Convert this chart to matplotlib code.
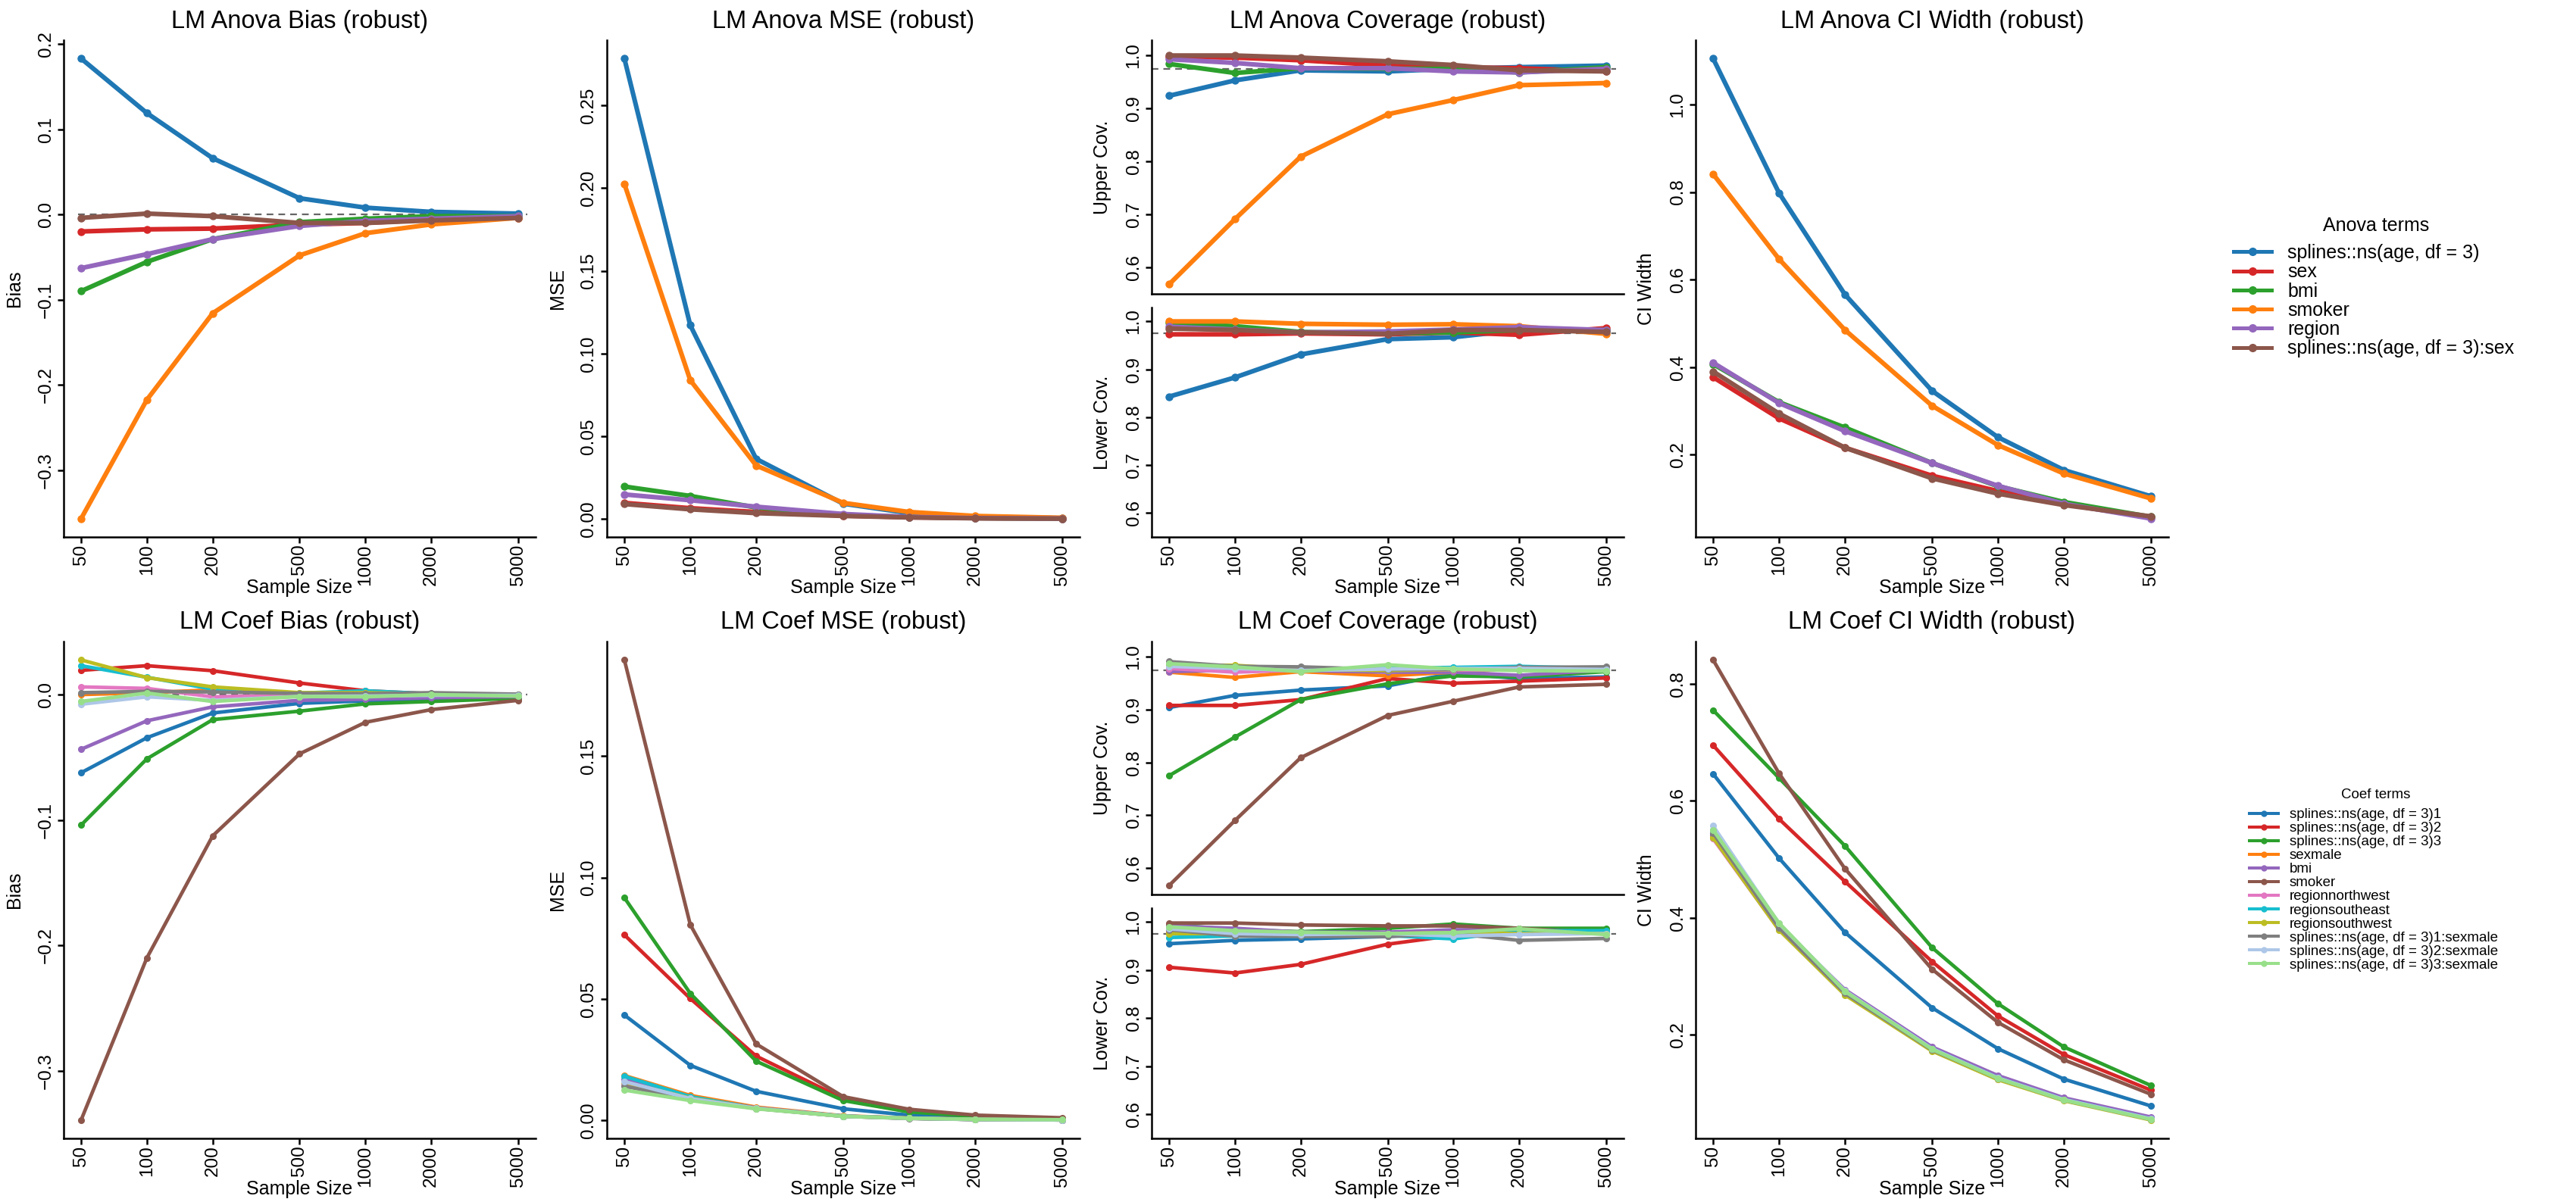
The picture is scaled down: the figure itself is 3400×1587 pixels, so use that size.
import matplotlib
matplotlib.use("Agg")
import matplotlib.pyplot as plt
from matplotlib.lines import Line2D
import numpy as np

plt.rcParams['font.family'] = ['Liberation Sans', 'DejaVu Sans']

# ---------------- data ----------------
sample_sizes = [50, 100, 200, 500, 1000, 2000, 5000]
x_tick_labels = ["50", "100", "200", "500", "1000", "2000", "5000"]

anova_terms = ["splines::ns(age, df = 3)", "sex", "bmi", "smoker", "region",
               "splines::ns(age, df = 3):sex"]
anova_colors = ["#1f77b4", "#d62728", "#2ca02c", "#ff7f0e", "#9467bd", "#8c564b"]

coef_terms = ["splines::ns(age, df = 3)1", "splines::ns(age, df = 3)2",
              "splines::ns(age, df = 3)3", "sexmale", "bmi", "smoker",
              "regionnorthwest", "regionsoutheast", "regionsouthwest",
              "splines::ns(age, df = 3)1:sexmale", "splines::ns(age, df = 3)2:sexmale",
              "splines::ns(age, df = 3)3:sexmale"]
coef_colors = ["#1f77b4", "#d62728", "#2ca02c", "#ff7f0e", "#9467bd", "#8c564b",
               "#e377c2", "#17becf", "#bcbd22", "#7f7f7f", "#aec7e8", "#98df8a"]

anova_bias = [
    [0.183, 0.119, 0.066, 0.019, 0.008, 0.003, 0.001],
    [-0.020, -0.0175, -0.0166, -0.012, -0.010, -0.006, -0.004],
    [-0.090, -0.0556, -0.029, -0.009, -0.005, -0.002, -0.002],
    [-0.357, -0.2175, -0.116, -0.048, -0.022, -0.0117, -0.004],
    [-0.063, -0.0466, -0.029, -0.0135, -0.0076, -0.005, -0.002],
    [-0.004, 0.001, -0.002, -0.010, -0.010, -0.007, -0.004],
]
anova_mse = [
    [0.2784, 0.1171, 0.0363, 0.0092, 0.0035, 0.0014, 0.0005],
    [0.0097, 0.0065, 0.0042, 0.0020, 0.0010, 0.0005, 0.0002],
    [0.0196, 0.0139, 0.0069, 0.0025, 0.0012, 0.0005, 0.0002],
    [0.2026, 0.0839, 0.0323, 0.0097, 0.0042, 0.0018, 0.0007],
    [0.0148, 0.0113, 0.0074, 0.0030, 0.0012, 0.0005, 0.0002],
    [0.0090, 0.0058, 0.0035, 0.0018, 0.0009, 0.0004, 0.0002],
]
anova_cov_upper = [
    [0.924, 0.953, 0.972, 0.970, 0.975, 0.978, 0.981],
    [0.998, 0.996, 0.991, 0.981, 0.978, 0.976, 0.970],
    [0.984, 0.967, 0.976, 0.975, 0.975, 0.968, 0.978],
    [0.568, 0.691, 0.809, 0.889, 0.916, 0.944, 0.948],
    [0.993, 0.986, 0.976, 0.976, 0.970, 0.968, 0.975],
    [1.000, 1.000, 0.996, 0.989, 0.982, 0.972, 0.970],
]
anova_cov_lower = [
    [0.843, 0.883, 0.931, 0.963, 0.967, 0.982, 0.981],
    [0.973, 0.973, 0.975, 0.973, 0.977, 0.972, 0.986],
    [0.998, 0.990, 0.978, 0.975, 0.977, 0.982, 0.982],
    [1.000, 1.000, 0.995, 0.993, 0.994, 0.990, 0.974],
    [0.989, 0.983, 0.977, 0.979, 0.983, 0.988, 0.982],
    [0.985, 0.982, 0.977, 0.974, 0.982, 0.982, 0.978],
]
anova_ci = [
    [1.105, 0.798, 0.566, 0.346, 0.240, 0.165, 0.105],
    [0.377, 0.283, 0.216, 0.152, 0.117, 0.087, 0.057],
    [0.407, 0.320, 0.262, 0.181, 0.128, 0.092, 0.058],
    [0.841, 0.647, 0.485, 0.312, 0.222, 0.157, 0.100],
    [0.410, 0.318, 0.254, 0.181, 0.129, 0.088, 0.054],
    [0.390, 0.294, 0.216, 0.146, 0.111, 0.085, 0.059],
]

coef_bias = [
    [-0.0623, -0.0344, -0.0147, -0.0070, -0.0050, -0.0037, -0.0020],
    [0.0193, 0.0230, 0.0190, 0.0092, 0.0030, 0.0006, -0.0006],
    [-0.104, -0.0512, -0.0200, -0.0132, -0.0074, -0.0055, -0.0030],
    [0.0000, 0.0015, 0.0037, 0.0006, 0.0000, 0.0000, -0.0006],
    [-0.0436, -0.0209, -0.0098, -0.0046, -0.0037, -0.0025, -0.0015],
    [-0.339, -0.2098, -0.1126, -0.0472, -0.0221, -0.0120, -0.0046],
    [0.0061, 0.0049, -0.0018, -0.0006, -0.0006, 0.0000, -0.0006],
    [0.0230, 0.0138, 0.0043, 0.0012, 0.0030, 0.0006, 0.0000],
    [0.0276, 0.0135, 0.0061, 0.0015, 0.0015, 0.0006, 0.0000],
    [0.0015, 0.0025, 0.0021, 0.0009, 0.0006, 0.0015, 0.0003],
    [-0.0077, -0.0018, -0.0046, -0.0015, -0.0012, -0.0006, -0.0006],
    [-0.0055, 0.0012, -0.0055, -0.0015, -0.0018, 0.0000, -0.0012],
]
coef_mse = [
    [0.0434, 0.0227, 0.0120, 0.0048, 0.0022, 0.0011, 0.0005],
    [0.0764, 0.0502, 0.0265, 0.0090, 0.0038, 0.0019, 0.0008],
    [0.0917, 0.0523, 0.0244, 0.0082, 0.0035, 0.0017, 0.0006],
    [0.0185, 0.0103, 0.0055, 0.0019, 0.0010, 0.0005, 0.0002],
    [0.0170, 0.0095, 0.0052, 0.0018, 0.0009, 0.0004, 0.0002],
    [0.1896, 0.0806, 0.0315, 0.0098, 0.0046, 0.0022, 0.0011],
    [0.0150, 0.0090, 0.0050, 0.0017, 0.0009, 0.0004, 0.0002],
    [0.0182, 0.0098, 0.0050, 0.0018, 0.0009, 0.0004, 0.0002],
    [0.0157, 0.0092, 0.0050, 0.0017, 0.0009, 0.0004, 0.0002],
    [0.0141, 0.0088, 0.0049, 0.0017, 0.0008, 0.0004, 0.0002],
    [0.0160, 0.0090, 0.0050, 0.0017, 0.0009, 0.0004, 0.0002],
    [0.0125, 0.0082, 0.0048, 0.0017, 0.0009, 0.0005, 0.0003],
]
coef_cov_upper = [
    [0.904, 0.927, 0.937, 0.945, 0.969, 0.959, 0.962],
    [0.908, 0.908, 0.919, 0.959, 0.950, 0.954, 0.960],
    [0.775, 0.848, 0.919, 0.949, 0.964, 0.962, 0.972],
    [0.971, 0.961, 0.972, 0.964, 0.971, 0.978, 0.978],
    [0.972, 0.975, 0.974, 0.971, 0.971, 0.965, 0.975],
    [0.567, 0.690, 0.809, 0.889, 0.916, 0.943, 0.948],
    [0.978, 0.971, 0.975, 0.975, 0.975, 0.976, 0.977],
    [0.985, 0.980, 0.974, 0.978, 0.980, 0.982, 0.978],
    [0.984, 0.984, 0.976, 0.974, 0.976, 0.978, 0.977],
    [0.991, 0.982, 0.981, 0.976, 0.976, 0.980, 0.981],
    [0.982, 0.978, 0.974, 0.977, 0.978, 0.978, 0.976],
    [0.987, 0.981, 0.972, 0.985, 0.977, 0.974, 0.973],
]
coef_cov_lower = [
    [0.955, 0.962, 0.965, 0.970, 0.978, 0.980, 0.979],
    [0.906, 0.894, 0.912, 0.954, 0.972, 0.982, 0.982],
    [0.995, 0.984, 0.980, 0.987, 0.996, 0.987, 0.987],
    [0.979, 0.974, 0.975, 0.975, 0.976, 0.978, 0.976],
    [0.992, 0.987, 0.979, 0.979, 0.984, 0.984, 0.976],
    [0.998, 0.998, 0.994, 0.992, 0.992, 0.987, 0.978],
    [0.986, 0.980, 0.977, 0.976, 0.978, 0.979, 0.977],
    [0.968, 0.971, 0.970, 0.972, 0.965, 0.982, 0.982],
    [0.976, 0.976, 0.976, 0.976, 0.978, 0.976, 0.976],
    [0.984, 0.971, 0.970, 0.970, 0.976, 0.962, 0.966],
    [0.986, 0.976, 0.974, 0.976, 0.971, 0.974, 0.976],
    [0.990, 0.982, 0.979, 0.976, 0.978, 0.986, 0.974],
]
coef_ci = [
    [0.646, 0.502, 0.375, 0.246, 0.176, 0.124, 0.078],
    [0.695, 0.569, 0.462, 0.325, 0.232, 0.166, 0.105],
    [0.755, 0.639, 0.523, 0.349, 0.253, 0.179, 0.113],
    [0.540, 0.383, 0.272, 0.175, 0.125, 0.089, 0.056],
    [0.542, 0.386, 0.277, 0.179, 0.130, 0.092, 0.059],
    [0.841, 0.647, 0.484, 0.312, 0.221, 0.157, 0.098],
    [0.535, 0.380, 0.270, 0.173, 0.124, 0.088, 0.055],
    [0.550, 0.388, 0.274, 0.176, 0.126, 0.089, 0.056],
    [0.537, 0.379, 0.268, 0.172, 0.123, 0.087, 0.054],
    [0.545, 0.383, 0.271, 0.174, 0.125, 0.088, 0.055],
    [0.557, 0.390, 0.275, 0.176, 0.126, 0.089, 0.056],
    [0.550, 0.391, 0.274, 0.175, 0.125, 0.088, 0.055],
]

coverage_nominal = 0.975
coverage_ylim = (0.55, 1.029)

# ---------------- layout ----------------
W, H = 3400, 1587
fig = plt.figure(figsize=(W / 100, H / 100), dpi=100)

TICK_FS = 17.5
LABEL_FS = 18
TITLE_FS = 23.5


def px_ax(l, t, r, b):
    return fig.add_axes([l / W, 1 - b / H, (r - l) / W, (b - t) / H])


def ftext(x, y, s, **kw):
    fig.text(x / W, 1 - y / H, s, **kw)


cols = [(84, 707), (801, 1425), (1520, 2143), (2238, 2862)]
rows = [(53, 709), (847, 1503)]
cov_rows = [((53, 388), (406, 709)), ((847, 1181), (1199, 1503))]

lx = np.log10(sample_sizes)
xr = lx.max() - lx.min()
XLIM = (10 ** (lx.min() - 0.04 * xr), 10 ** (lx.max() + 0.04 * xr))


def fmt(v, dec):
    s = f"{v:.{dec}f}"
    if float(s) == 0:
        s = f"{0:.{dec}f}"
    return s.replace("-", "\u2212")


def data_ylim(series):
    a = np.array(series)
    lo, hi = a.min(), a.max()
    r = hi - lo
    return lo - 0.04 * r, hi + 0.04 * r


def style(ax, ylim, step, dec, show_x=True):
    ax.set_xscale('log')
    ax.set_xlim(*XLIM)
    ax.set_ylim(*ylim)
    for s in ['top', 'right']:
        ax.spines[s].set_visible(False)
    for s in ['left', 'bottom']:
        ax.spines[s].set_linewidth(1.8)
    ax.minorticks_off()
    if show_x:
        ax.set_xticks(sample_sizes)
        ax.set_xticklabels(x_tick_labels, rotation=90, fontsize=TICK_FS)
        ax.tick_params(axis='x', length=5.5, width=1.8, pad=1.5)
    else:
        ax.set_xticks([])
    k0 = int(np.ceil(ylim[0] / step - 1e-9))
    k1 = int(np.floor(ylim[1] / step + 1e-9))
    ticks = [k * step for k in range(k0, k1 + 1)]
    ax.set_yticks(ticks)
    ax.set_yticklabels([fmt(t, dec) for t in ticks], rotation=90,
                       va='center', fontsize=TICK_FS)
    ax.tick_params(axis='y', length=5.5, width=1.8, pad=3.5)


def draw(ax, series, colors, lw, ms):
    for ys, c in zip(series, colors):
        ax.plot(sample_sizes, ys, color=c, lw=lw, marker='o', ms=ms,
                solid_joinstyle='round', solid_capstyle='round', zorder=3)


def ylabel(col, y, s):
    ftext(cols[col][0] - 65, y, s, rotation=90, ha='center', va='center',
          fontsize=LABEL_FS)


panel_sets = [
    ("Anova", anova_bias, anova_mse, anova_cov_upper, anova_cov_lower, anova_ci,
     anova_colors, 4.4, 6.5),
    ("Coef", coef_bias, coef_mse, coef_cov_upper, coef_cov_lower, coef_ci,
     coef_colors, 3.4, 5.5),
]

for r, (name, bias, mse, cu, cl, ci, colors, lw, ms) in enumerate(panel_sets):
    top, bot = rows[r]
    ymid = (top + bot) / 2

    # Bias
    ax = px_ax(cols[0][0], top, cols[0][1], bot)
    style(ax, data_ylim(bias), 0.1, 1)
    ax.axhline(0, xmin=0.03, xmax=0.983, color='#666666', lw=1.6,
               ls=(0, (4, 3)), zorder=2)
    draw(ax, bias, colors, lw, ms)
    ylabel(0, ymid, "Bias")

    # MSE
    ax = px_ax(cols[1][0], top, cols[1][1], bot)
    style(ax, data_ylim(mse), 0.05, 2)
    draw(ax, mse, colors, lw, ms)
    ylabel(1, ymid, "MSE")

    # Coverage
    (ut, ub), (lt, lb) = cov_rows[r]
    axu = px_ax(cols[2][0], ut, cols[2][1], ub)
    style(axu, coverage_ylim, 0.1, 1, show_x=False)
    axu.axhline(coverage_nominal, xmax=0.984, color='#666666', lw=1.6,
                ls=(0, (4, 3)), zorder=2)
    draw(axu, cu, colors, lw, ms)
    ylabel(2, (ut + ub) / 2, "Upper Cov.")
    axl = px_ax(cols[2][0], lt, cols[2][1], lb)
    style(axl, coverage_ylim, 0.1, 1)
    axl.axhline(coverage_nominal, xmax=0.984, color='#666666', lw=1.6,
                ls=(0, (4, 3)), zorder=2)
    draw(axl, cl, colors, lw, ms)
    ylabel(2, (lt + lb) / 2, "Lower Cov.")

    # CI width
    ax = px_ax(cols[3][0], top, cols[3][1], bot)
    style(ax, data_ylim(ci), 0.2, 1)
    draw(ax, ci, colors, lw, ms)
    ylabel(3, ymid, "CI Width")

    titles = [f"LM {name} Bias (robust)", f"LM {name} MSE (robust)",
              f"LM {name} Coverage (robust)", f"LM {name} CI Width (robust)"]
    for c in range(4):
        xc = (cols[c][0] + cols[c][1]) / 2
        ftext(xc, top - 25, titles[c], ha='center', va='center', fontsize=TITLE_FS)
        ftext(xc, bot + 67, "Sample Size", ha='center', va='center',
              fontsize=LABEL_FS)

# ---------------- legends ----------------
h_anova = [Line2D([0], [0], color=c, lw=3.6, marker='o', ms=7) for c in anova_colors]
fig.legend(h_anova, anova_terms, loc='upper left',
           bbox_to_anchor=(2948 / W, 1 - 322 / H), frameon=False,
           fontsize=18, handlelength=2.0, handletextpad=0.85, labelspacing=0.05,
           borderpad=0, borderaxespad=0)
ftext(3136, 298, "Anova terms", ha='center', va='center', fontsize=18)

h_coef = [Line2D([0], [0], color=c, lw=2.9, marker='o', ms=5) for c in coef_colors]
fig.legend(h_coef, coef_terms, loc='upper left',
           bbox_to_anchor=(2969 / W, 1 - 1067 / H), frameon=False,
           fontsize=13.5, handlelength=2.0, handletextpad=0.8, labelspacing=0.05,
           borderpad=0, borderaxespad=0)
ftext(3136, 1049, "Coef terms", ha='center', va='center', fontsize=13.5)

fig.savefig("out.png", dpi=100, facecolor='white')
